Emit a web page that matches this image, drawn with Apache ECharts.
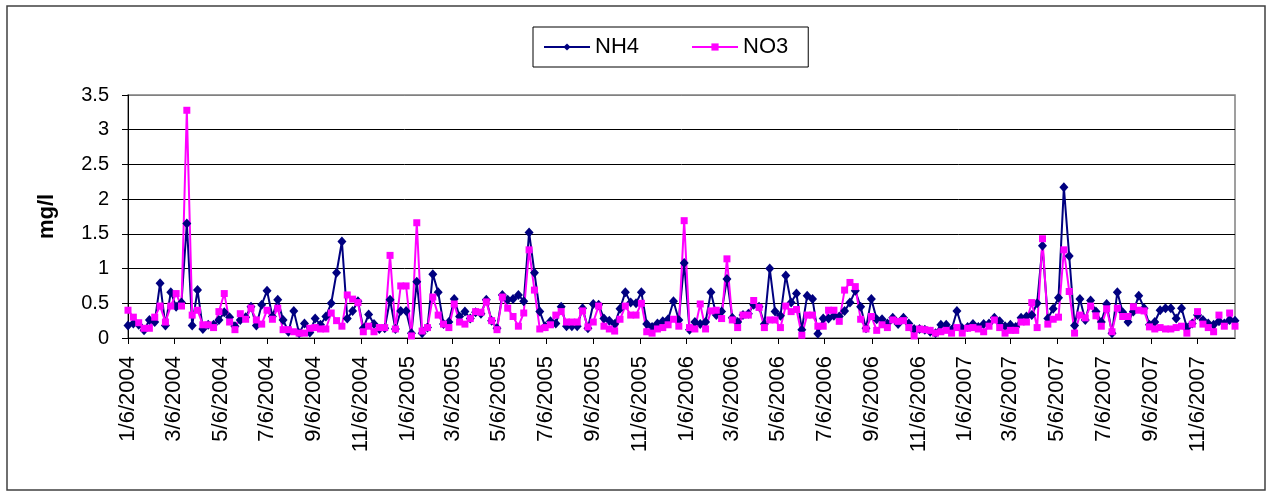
<!DOCTYPE html>
<html><head><meta charset="utf-8">
<script src="https://cdn.jsdelivr.net/npm/echarts@6/dist/echarts.min.js"></script>
<style>html,body{margin:0;padding:0;background:#fff}#c{width:1272px;height:492px}</style>
</head><body><div id="c"></div>
<script>
const dates = [
'2004-01-06','2004-01-13','2004-01-20','2004-01-27',
'2004-02-03','2004-02-10','2004-02-17','2004-02-24',
'2004-03-02','2004-03-09','2004-03-16','2004-03-23','2004-03-30',
'2004-04-06','2004-04-13','2004-04-20','2004-04-27',
'2004-05-04','2004-05-11','2004-05-18','2004-05-25',
'2004-06-01','2004-06-08','2004-06-15','2004-06-22','2004-06-29',
'2004-07-06','2004-07-13','2004-07-20','2004-07-27',
'2004-08-03','2004-08-10','2004-08-17','2004-08-24','2004-08-31',
'2004-09-07','2004-09-14','2004-09-21','2004-09-28',
'2004-10-05','2004-10-12','2004-10-19','2004-10-26',
'2004-11-02','2004-11-09','2004-11-16','2004-11-23','2004-11-30',
'2004-12-07','2004-12-14','2004-12-21','2004-12-28',
'2005-01-04','2005-01-11','2005-01-18','2005-01-25',
'2005-02-01','2005-02-08','2005-02-15','2005-02-22',
'2005-03-01','2005-03-08','2005-03-15','2005-03-22','2005-03-29',
'2005-04-05','2005-04-12','2005-04-19','2005-04-26',
'2005-05-03','2005-05-10','2005-05-17','2005-05-24','2005-05-31',
'2005-06-07','2005-06-14','2005-06-21','2005-06-28',
'2005-07-05','2005-07-12','2005-07-19','2005-07-26',
'2005-08-02','2005-08-09','2005-08-16','2005-08-23','2005-08-30',
'2005-09-06','2005-09-13','2005-09-20','2005-09-27',
'2005-10-04','2005-10-11','2005-10-18','2005-10-25',
'2005-11-01','2005-11-08','2005-11-15','2005-11-22','2005-11-29',
'2005-12-06','2005-12-13','2005-12-20','2005-12-27',
'2006-01-03','2006-01-10','2006-01-17','2006-01-24','2006-01-31',
'2006-02-07','2006-02-14','2006-02-21','2006-02-28',
'2006-03-07','2006-03-14','2006-03-21','2006-03-28',
'2006-04-04','2006-04-11','2006-04-18','2006-04-25',
'2006-05-02','2006-05-09','2006-05-16','2006-05-23','2006-05-30',
'2006-06-06','2006-06-13','2006-06-20','2006-06-27',
'2006-07-04','2006-07-11','2006-07-18','2006-07-25',
'2006-08-01','2006-08-08','2006-08-15','2006-08-22','2006-08-29',
'2006-09-05','2006-09-12','2006-09-19','2006-09-26',
'2006-10-03','2006-10-10','2006-10-17','2006-10-24','2006-10-31',
'2006-11-07','2006-11-14','2006-11-21','2006-11-28',
'2006-12-05','2006-12-12','2006-12-19','2006-12-26',
'2007-01-02','2007-01-09','2007-01-16','2007-01-23','2007-01-30',
'2007-02-06','2007-02-13','2007-02-20','2007-02-27',
'2007-03-06','2007-03-13','2007-03-20','2007-03-27',
'2007-04-03','2007-04-10','2007-04-17','2007-04-24',
'2007-05-01','2007-05-08','2007-05-15','2007-05-22','2007-05-29',
'2007-06-05','2007-06-12','2007-06-19','2007-06-26',
'2007-07-03','2007-07-10','2007-07-17','2007-07-24','2007-07-31',
'2007-08-07','2007-08-14','2007-08-21','2007-08-28',
'2007-09-04','2007-09-11','2007-09-18','2007-09-25',
'2007-10-02','2007-10-09','2007-10-16','2007-10-23','2007-10-30',
'2007-11-06','2007-11-13','2007-11-20','2007-11-27',
'2007-12-04','2007-12-11','2007-12-18','2007-12-25'
];

const nh4 = [
0.18,0.21,0.19,0.11,0.26,0.23,0.79,0.18,0.66,0.45,
0.51,1.65,0.18,0.69,0.13,0.19,0.19,0.26,0.37,0.30,
0.17,0.26,0.30,0.45,0.18,0.48,0.68,0.31,0.55,0.26,
0.09,0.39,0.07,0.21,0.08,0.28,0.19,0.31,0.50,0.94,
1.39,0.28,0.39,0.53,0.14,0.34,0.20,0.13,0.14,0.55,
0.13,0.39,0.39,0.07,0.81,0.07,0.15,0.92,0.66,0.20,
0.23,0.56,0.31,0.38,0.28,0.37,0.35,0.55,0.25,0.14,
0.62,0.55,0.56,0.62,0.53,1.52,0.94,0.38,0.17,0.24,
0.21,0.45,0.17,0.17,0.17,0.43,0.14,0.49,0.48,0.28,
0.25,0.20,0.42,0.66,0.51,0.50,0.66,0.20,0.16,0.21,
0.24,0.27,0.53,0.26,1.08,0.12,0.23,0.20,0.23,0.66,
0.33,0.38,0.85,0.29,0.23,0.33,0.35,0.48,0.45,0.20,
1.00,0.38,0.32,0.90,0.51,0.64,0.12,0.61,0.56,0.06,
0.28,0.28,0.32,0.31,0.39,0.51,0.68,0.45,0.14,0.56,
0.27,0.27,0.21,0.29,0.20,0.29,0.21,0.13,0.13,0.12,
0.09,0.07,0.19,0.19,0.12,0.39,0.14,0.16,0.20,0.16,
0.20,0.21,0.29,0.24,0.17,0.19,0.16,0.29,0.31,0.33,
0.50,1.33,0.28,0.42,0.58,2.17,1.18,0.18,0.56,0.26,
0.54,0.38,0.23,0.49,0.07,0.66,0.37,0.23,0.38,0.61,
0.43,0.19,0.23,0.40,0.43,0.43,0.28,0.43,0.15,0.21,
0.33,0.26,0.21,0.19,0.24,0.21,0.26,0.25
];

const no3 = [
0.40,0.30,0.22,0.14,0.14,0.30,0.46,0.23,0.46,0.64,
0.46,3.28,0.33,0.40,0.19,0.19,0.15,0.38,0.64,0.23,
0.12,0.35,0.27,0.43,0.26,0.20,0.40,0.27,0.43,0.12,
0.12,0.09,0.07,0.07,0.14,0.15,0.13,0.13,0.36,0.25,
0.17,0.62,0.56,0.51,0.09,0.17,0.09,0.15,0.15,1.19,
0.13,0.75,0.75,0.03,1.66,0.10,0.15,0.59,0.33,0.20,
0.15,0.49,0.23,0.20,0.28,0.38,0.37,0.52,0.25,0.12,
0.59,0.43,0.31,0.17,0.36,1.27,0.69,0.13,0.15,0.19,
0.33,0.38,0.23,0.23,0.23,0.39,0.16,0.23,0.46,0.17,
0.13,0.10,0.27,0.46,0.33,0.33,0.50,0.09,0.07,0.13,
0.15,0.19,0.27,0.17,1.69,0.15,0.13,0.49,0.13,0.39,
0.40,0.28,1.14,0.26,0.15,0.33,0.33,0.54,0.44,0.15,
0.26,0.26,0.15,0.46,0.38,0.41,0.04,0.33,0.33,0.17,
0.17,0.40,0.40,0.24,0.69,0.80,0.74,0.27,0.13,0.31,
0.11,0.19,0.15,0.26,0.24,0.25,0.15,0.03,0.13,0.12,
0.11,0.07,0.09,0.11,0.07,0.15,0.07,0.14,0.15,0.13,
0.09,0.17,0.26,0.15,0.07,0.11,0.11,0.23,0.23,0.51,
0.15,1.43,0.20,0.27,0.30,1.27,0.67,0.07,0.33,0.29,
0.46,0.32,0.17,0.42,0.09,0.43,0.31,0.31,0.45,0.40,
0.39,0.16,0.13,0.15,0.13,0.13,0.15,0.17,0.07,0.20,
0.38,0.20,0.15,0.09,0.33,0.17,0.36,0.17
];

const tickLabels = [
'1/6/2004','3/6/2004','5/6/2004','7/6/2004','9/6/2004','11/6/2004',
'1/6/2005','3/6/2005','5/6/2005','7/6/2005','9/6/2005','11/6/2005',
'1/6/2006','3/6/2006','5/6/2006','7/6/2006','9/6/2006','11/6/2006',
'1/6/2007','3/6/2007','5/6/2007','7/6/2007','9/6/2007','11/6/2007'
];

function parseMDY(s){const p=s.split('/');return new Date(+p[2],+p[0]-1,+p[1]).getTime();}
function parseISO(s){const p=s.split('-');return new Date(+p[0],+p[1]-1,+p[2]).getTime();}
const tickValues = tickLabels.map(parseMDY);
const xs = dates.map(parseISO);

function labelFor(v){
  let best=0,bd=Infinity;
  for(let i=0;i<tickValues.length;i++){const d=Math.abs(tickValues[i]-v);if(d<bd){bd=d;best=i;}}
  return tickLabels[best];
}

const chart = echarts.init(document.getElementById('c'), null, {renderer:'canvas'});
const font = 'Liberation Sans, Arial, sans-serif';
chart.setOption({
  animation:false,
  backgroundColor:'#fff',
  graphic:[{type:'rect', silent:true, z:-10,
    shape:{x:7,y:6,width:1258,height:484},
    style:{fill:'#fff', stroke:'#404040', lineWidth:1.5}}],
  legend:{
    left:533, top:27, padding:[9,20,9,10], itemGap:52,
    itemWidth:46, itemHeight:9,
    borderColor:'#000', borderWidth:1, backgroundColor:'#fff',
    textStyle:{fontSize:22, fontFamily:font, color:'#000'},
    data:['NH4','NO3']
  },
  grid:{left:128, right:37, top:95, bottom:154, show:true, borderColor:'#808080', borderWidth:1.5, backgroundColor:'transparent'},
  xAxis:{
    type:'value', min:xs[0], max:xs[xs.length-1], scale:true,
    axisLine:{lineStyle:{color:'#000', width:1}},
    axisTick:{show:true, customValues:tickValues, length:6, lineStyle:{color:'#000'}},
    axisLabel:{customValues:tickValues, rotate:90, margin:18, fontSize:22, fontFamily:font, color:'#000', formatter:function(v){return labelFor(v);}},
    splitLine:{show:false}
  },
  yAxis:{
    type:'value', min:0, max:3.5, interval:0.5,
    name:'mg/l', nameLocation:'middle', nameGap:70,
    nameTextStyle:{fontWeight:'bold', fontSize:22, fontFamily:font, color:'#000'},
    axisLine:{show:true, lineStyle:{color:'#000', width:1}},
    axisTick:{show:true, length:6, lineStyle:{color:'#000'}},
    axisLabel:{fontSize:20, margin:19, fontFamily:font, color:'#000'},
    splitLine:{show:true, lineStyle:{color:['#000','#000','#000','#000','#000','#000','#000','#808080'], width:1}}
  },
  series:[
    {name:'NH4', type:'line', data:xs.map((x,i)=>[x,nh4[i]]),
     symbol:'diamond', symbolSize:[9,10], showSymbol:true, showAllSymbol:true,
     itemStyle:{color:'#000080'}, lineStyle:{color:'#000080', width:2},
     emphasis:{disabled:true}},
    {name:'NO3', type:'line', data:xs.map((x,i)=>[x,no3[i]]),
     symbol:'rect', symbolSize:7, showSymbol:true, showAllSymbol:true,
     itemStyle:{color:'#FF00FF'}, lineStyle:{color:'#FF00FF', width:2},
     emphasis:{disabled:true}}
  ]
});
</script></body></html>
